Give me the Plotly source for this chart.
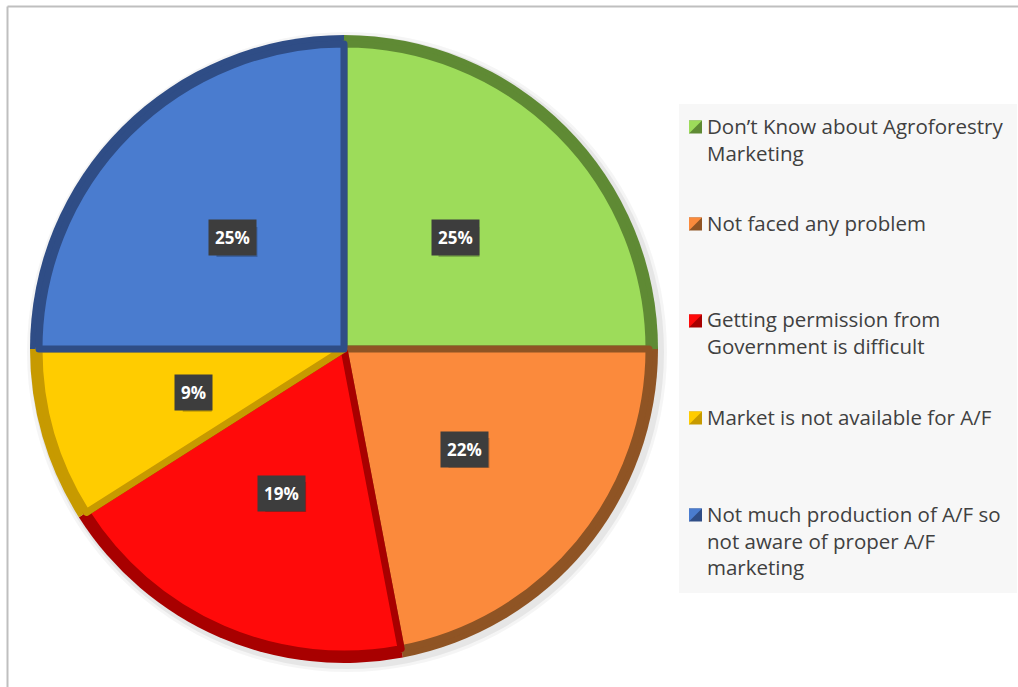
import math
import plotly.graph_objects as go

# Survey responses on agroforestry marketing problems (% of respondents)
categories = [
    "Don’t Know about Agroforestry<br>Marketing",
    "Not faced any problem",
    "Getting permission from<br>Government is difficult",
    "Market is not available for A/F",
    "Not much production of A/F so<br>not aware of proper A/F<br>marketing",
]
shares = [25, 22, 19, 9, 25]

face_colors = ["#9ddc5a", "#fb8a3c", "#ff0a0a", "#ffcc00", "#4a7ccf"]
edge_colors = ["#5f8a34", "#8f5424", "#a80000", "#c79a00", "#2f4d86"]

W, H = 1018, 687
CX, CY, R = 344, 349, 314   # pie centre and outer radius in pixels
BEVEL = 9

def px_x(x):
    return x / W

def px_y(y):
    return 1 - y / H

def dom(cx, cy, r):
    return dict(x=[px_x(cx - r), px_x(cx + r)], y=[px_y(cy + r), px_y(cy - r)])

fig = go.Figure()

# darker rim layer
fig.add_trace(go.Pie(
    labels=categories, values=shares, sort=False, direction="clockwise",
    rotation=0, textinfo="none", hoverinfo="skip", showlegend=False,
    marker=dict(colors=edge_colors, line=dict(width=0)),
    domain=dom(CX, CY, R),
))

# lit face layer
fig.add_trace(go.Pie(
    labels=categories, values=shares, sort=False, direction="clockwise",
    rotation=0, textinfo="none", showlegend=False,
    hovertemplate="%{label}: %{value}%<extra></extra>",
    marker=dict(colors=face_colors, line=dict(color=edge_colors, width=7)),
    domain=dom(CX, CY, R - BEVEL),
))

# percentage labels placed at half radius along each slice's mid-angle
total = sum(shares)
cum = 0
for v in shares:
    mid = (cum + v / 2) / total * 2 * math.pi
    cum += v
    lx = CX + 0.5 * R * math.sin(mid)
    ly = CY - 0.5 * R * math.cos(mid)
    bw, bh = 17 + 12 * len(str(v)), 30
    fig.add_shape(type="rect", xref="paper", yref="paper",
                  x0=px_x(lx - bw / 2 + 4), x1=px_x(lx + bw / 2 + 4),
                  y0=px_y(ly + bh / 2 + 4), y1=px_y(ly - bh / 2 + 4),
                  fillcolor="rgba(0,0,0,0.22)", line=dict(width=0), layer="above")
    fig.add_annotation(x=px_x(lx), y=px_y(ly), xref="paper", yref="paper",
                       xanchor="center", yanchor="middle",
                       text=f"<b>{v}%</b>", showarrow=False,
                       font=dict(family="Open Sans", size=17, color="white"),
                       bgcolor="#3d3d3d", borderpad=6)

# soft halo behind the pie
for k, a in [(6, 0.04), (3, 0.06)]:
    fig.add_shape(type="circle", xref="paper", yref="paper",
                  x0=px_x(CX - R - k + 3), x1=px_x(CX + R + k + 3),
                  y0=px_y(CY + R + k + 3), y1=px_y(CY - R - k + 3),
                  fillcolor=f"rgba(0,0,0,{a})", line=dict(width=0), layer="below")

# legend panel
LX0, LX1, LY0, LY1 = 679, 1017, 104, 593
fig.add_shape(type="rect", xref="paper", yref="paper",
              x0=px_x(LX0), x1=px_x(LX1), y0=px_y(LY1), y1=px_y(LY0),
              fillcolor="#f7f7f7", line=dict(width=0), layer="below")

FIRST_LINE, STEP, LINE_H, FS = 127, 97, 27, 20.5
for i, (lab, fc, ec) in enumerate(zip(categories, face_colors, edge_colors)):
    yc = FIRST_LINE + i * STEP
    sx0, sx1, sy0, sy1 = 689, 702, yc - 6.5, yc + 6.5
    # two-tone square swatch
    fig.add_shape(type="rect", xref="paper", yref="paper",
                  x0=px_x(sx0), x1=px_x(sx1), y0=px_y(sy1), y1=px_y(sy0),
                  fillcolor=ec, line=dict(width=0))
    fig.add_shape(type="path", xref="paper", yref="paper",
                  path=f"M{px_x(sx0)},{px_y(sy0)} L{px_x(sx1)},{px_y(sy0)} "
                       f"L{px_x(sx0)},{px_y(sy1)} Z",
                  fillcolor=fc, line=dict(width=0))
    fig.add_annotation(x=px_x(705), y=px_y(yc - LINE_H / 2 - 4), xref="paper", yref="paper",
                       xanchor="left", yanchor="top", align="left",
                       text=lab, showarrow=False,
                       font=dict(family="Open Sans", size=FS, color="#404040"))

# chart frame (top and left edges)
fig.add_shape(type="line", xref="paper", yref="paper",
              x0=px_x(7.5), x1=1.0, y0=px_y(6.5), y1=px_y(6.5),
              line=dict(color="#bfbfbf", width=2))
fig.add_shape(type="line", xref="paper", yref="paper",
              x0=px_x(7.5), x1=px_x(7.5), y0=0, y1=px_y(6.5),
              line=dict(color="#bfbfbf", width=2))

fig.update_layout(
    width=W, height=H,
    margin=dict(l=0, r=0, t=0, b=0),
    paper_bgcolor="white",
    plot_bgcolor="white",
    showlegend=False,
)

fig.write_html("out.html")
